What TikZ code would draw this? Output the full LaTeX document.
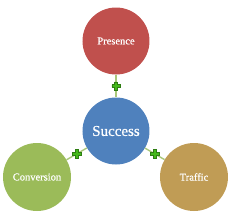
\documentclass[tikz,border=0pt]{standalone}
\usepackage{fontspec}
\setmainfont[FakeBold=0.6]{Liberation Serif}
\definecolor{cred}{HTML}{C0504D}
\definecolor{cblue}{HTML}{4F81BD}
\definecolor{cgreen}{HTML}{9BBB59}
\definecolor{ctan}{HTML}{C09C55}
\definecolor{cline}{HTML}{A9C77A}
\definecolor{pfill}{HTML}{44B81A}
\definecolor{pdraw}{HTML}{2E7D12}
\begin{document}
\begin{tikzpicture}[x=1pt,y=-1pt,
  bubble/.style={circle,minimum size=67pt,inner sep=0pt,text=white,font=\fontsize{10.5}{12}\selectfont},
  link/.style={draw=cline,line width=1.4pt},
  plusmark/.pic={\fill[pfill,draw=pdraw,line width=0.4pt]
     (-1.4,-4.2)--(1.4,-4.2)--(1.4,-1.4)--(4.2,-1.4)--(4.2,1.4)--(1.4,1.4)--(1.4,4.2)--(-1.4,4.2)--(-1.4,1.4)--(-4.2,1.4)--(-4.2,-1.4)--(-1.4,-1.4)--cycle;}]
\useasboundingbox (0,0) rectangle (231,218);
\node[bubble,fill=cred] (pres) at (116,41) {Presence};
\node[bubble,fill=cblue,font=\fontsize{15}{17}\selectfont] (succ) at (116,131) {Success};
\node[bubble,fill=cgreen,minimum size=68pt] (conv) at (37,177) {Conversion};
\node[bubble,fill=ctan,minimum size=68pt] (traf) at (194,177) {Traffic};
\draw[link] (pres) -- (succ) coordinate[pos=0.5] (m1);
\draw[link] (succ) -- (conv) coordinate[pos=0.5] (m2);
\draw[link] (succ) -- (traf) coordinate[pos=0.5] (m3);
\pic at (m1) {plusmark};
\pic at (m2) {plusmark};
\pic at (m3) {plusmark};
\end{tikzpicture}
\end{document}
